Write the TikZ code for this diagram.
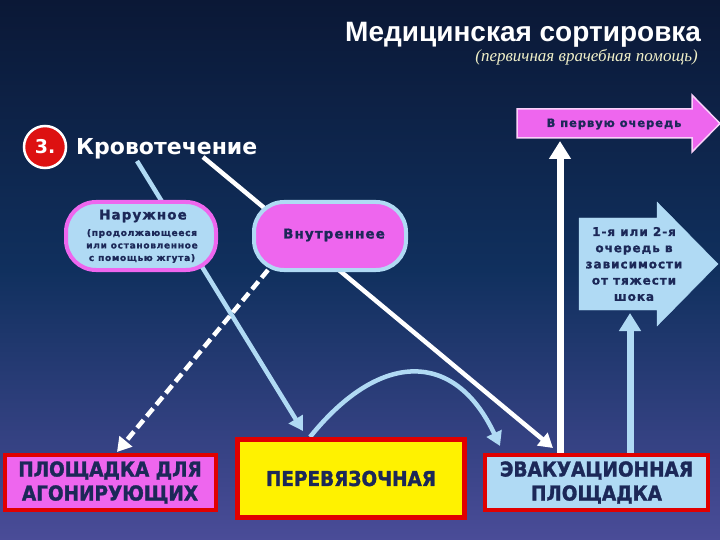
\documentclass[tikz,border=0pt]{standalone}
\usepackage{fontspec}
\setmainfont{Liberation Sans}
\newfontfamily\dv{DejaVu Sans}
\newfontfamily\dvs{DejaVu Sans}[LetterSpace=8, BoldFeatures={FakeBold=1.2}]
\newfontfamily\dvbox{DejaVu Sans}[FakeStretch=0.9, BoldFeatures={FakeBold=1.5}]
\newfontfamily\ser{Liberation Serif}
\usetikzlibrary{arrows.meta,backgrounds}
\definecolor{bgtop}{HTML}{0B1836}
\definecolor{bgmid}{HTML}{10305E}
\definecolor{bgbot}{HTML}{4A4C98}
\definecolor{lblue}{HTML}{B0DAF4}
\definecolor{mag}{HTML}{EE66EE}
\definecolor{navy}{HTML}{1C2858}
\definecolor{boxred}{HTML}{E00000}
\definecolor{subcol}{HTML}{F0F0C8}
\definecolor{numred}{HTML}{DD1111}
\tikzset{
  bline/.style={draw=lblue, line width=4.5pt, -{Triangle[width=16pt,length=14pt]}},
  wline/.style={draw=white, line width=4.5pt, -{Triangle[width=16pt,length=14pt]}},
  vline/.style={line width=7pt, -{Triangle[width=21pt,length=18pt]}},
  pill/.style={rounded corners=30pt, line width=4pt, minimum width=150pt, minimum height=68pt},
  box/.style={draw=boxred, line width=4pt, text=navy, align=center,
    font=\dvbox\bfseries\fontsize{20.5}{24}\selectfont},
  ntext/.style={text=navy, inner sep=0pt},
}
\begin{document}
\begin{tikzpicture}[x=1pt,y=-1pt]
\useasboundingbox (0,0) rectangle (720,540);
\begin{scope}[on background layer]
\shade[top color=bgtop, bottom color=bgbot, middle color=bgmid] (0,0) rectangle (720,540);
\end{scope}

% title
\node[anchor=base west, text=white, inner sep=0pt, font=\bfseries\fontsize{28}{30}\selectfont] (title) at (345,42) {Медицинская сортировка};
\node[anchor=base east, text=subcol, inner sep=0pt, font=\ser\itshape\fontsize{17}{19}\selectfont] (sub) at (698,62) {(первичная врачебная помощь)};

% heading
\node[circle, fill=numred, draw=white, line width=2.5pt, minimum size=42pt, inner sep=0pt, text=white, font=\dv\bfseries\fontsize{19}{20}\selectfont] (num) at (45,147) {3.};
\node[anchor=base west, text=white, inner sep=0pt, font=\dv\bfseries\fontsize{22}{24}\selectfont] (krov) at (76,155) {Кровотечение};

% arrow shapes
\draw[fill=mag, draw=white!70!mag, line width=1.5pt] (517,109) -- (692,109) -- (692,95) -- (720,123.5) -- (692,152) -- (692,138) -- (517,138) -- cycle;
\node[ntext, font=\dvs\bfseries\fontsize{11.5}{13}\selectfont] (first) at (614,124) {В первую очередь};
\draw[fill=lblue, draw=lblue] (579,218) -- (657,218) -- (657,202) -- (718,264) -- (657,326) -- (657,310) -- (579,310) -- cycle;
\node[ntext, align=center, font=\dvs\bfseries\fontsize{12}{16.2}\selectfont] (second) at (634,264) {1-я или 2-я\\очередь в\\зависимости\\от тяжести\\шока};
\coordinate (firstB) at (560,141);
\coordinate (secondB) at (630,313);

% pills
\node[pill, fill=lblue, draw=mag] (nar) at (141,236) {};
\node[ntext, font=\dvs\bfseries\fontsize{13.5}{15}\selectfont] (nart) at (143,216) {Наружное};
\node[ntext, align=center, font=\dvs\bfseries\fontsize{9}{12.5}\selectfont] (nars) at (142,246) {(продолжающееся\\или остановленное\\с помощью жгута)};
\node[pill, fill=mag, draw=lblue, minimum width=152pt] (vn) at (330,236) {};
\node[ntext, font=\dvs\bfseries\fontsize{13.5}{15}\selectfont] (vnt) at (334,235) {Внутреннее};

% boxes
\node[box, fill=mag, minimum width=211pt, minimum height=55pt] (agon) at (110,482.5) {ПЛОЩАДКА ДЛЯ\\АГОНИРУЮЩИХ};
\node[box, fill=yellow, line width=5pt, minimum width=227pt, minimum height=78pt] (perev) at (351,478.5) {ПЕРЕВЯЗОЧНАЯ};
\node[box, fill=lblue, minimum width=223pt, minimum height=55pt] (evac) at (596.5,482.5) {ЭВАКУАЦИОННАЯ\\ПЛОЩАДКА};

% connector end points
\coordinate (k1) at (137,161);
\coordinate (k2) at (203,157);
\coordinate (v1) at (268,270);
\coordinate (t1) at (303,431);
\coordinate (t2) at (553,448);
\coordinate (t3) at (117,452);
\coordinate (c0) at (310,437);
\coordinate (c1) at (500,446);

\begin{scope}[on background layer]
\draw[bline] (k1) -- (t1);
\draw[wline] (k2) -- (t2);
\draw[wline, dash pattern=on 10pt off 5pt] (v1) -- (t3);
\draw[bline] (c0) .. controls (380,350) and (455,350) .. (c1);
\draw[vline, draw=white] (evac.north -| firstB) -- (firstB);
\draw[vline, draw=lblue] (evac.north -| secondB) -- (secondB);
\end{scope}
\end{tikzpicture}
\end{document}
